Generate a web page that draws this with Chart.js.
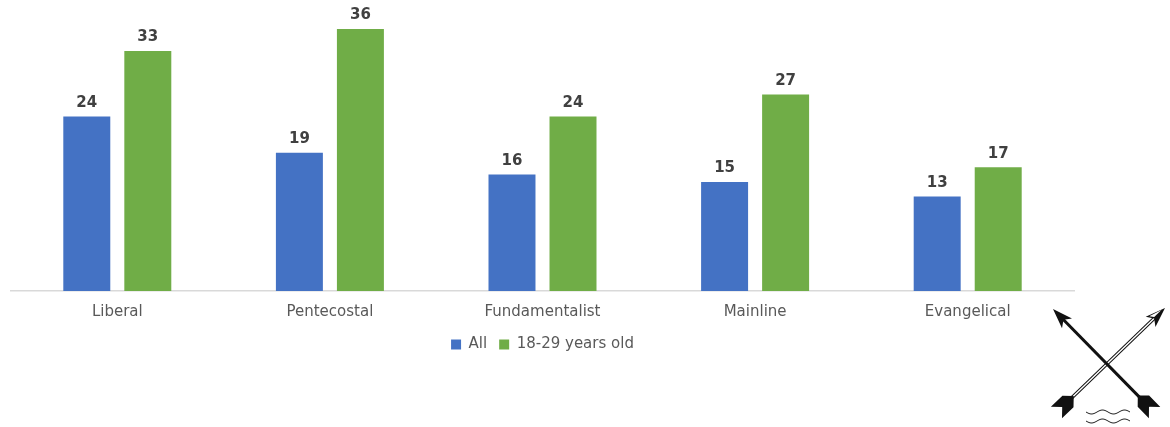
<!DOCTYPE html>
<html>
    <head>
        <title>Groupes religieux</title>
        <meta http-equiv="Content-Type" content="text/html; charset=UTF-8">
        <script src="https://cdn.jsdelivr.net/npm/chart.js"></script>
        <style>
            html, body { margin: 0; padding: 0; background: #fff; }
            #wrap { width: 1170px; height: 427px; position: relative; }
        </style>
    </head>
    <body>
        <div id="wrap">
            <canvas id="graphique"></canvas>
        </div>

        <script>
            const categories = ["Liberal", "Pentecostal", "Fundamentalist", "Mainline", "Evangelical"];
            const valeursTous = [24, 19, 16, 15, 13];
            const valeurs18_29 = [33, 36, 24, 27, 17];

            // valeurs au-dessus des barres
            const etiquettes = {
                id: 'etiquettes',
                afterDatasetsDraw(chart) {
                    const ctx = chart.ctx;
                    ctx.save();
                    ctx.font = 'bold 15px "DejaVu Sans"';
                    ctx.fillStyle = '#404040';
                    ctx.textAlign = 'center';
                    ctx.textBaseline = 'bottom';
                    chart.data.datasets.forEach(function (ds, i) {
                        chart.getDatasetMeta(i).data.forEach(function (bar, j) {
                            ctx.fillText(ds.data[j], bar.x, bar.y - 6);
                        });
                    });
                    ctx.restore();
                }
            };

            // petit logo : deux flèches croisées
            function fleche(ctx, x1, y1, x2, y2, plein) {
                const a = Math.atan2(y2 - y1, x2 - x1);
                ctx.save();
                ctx.translate(x1, y1);
                ctx.rotate(a);
                const L = Math.hypot(x2 - x1, y2 - y1);
                ctx.strokeStyle = '#111';
                ctx.fillStyle = '#111';
                if (plein) {
                    ctx.lineWidth = 3;
                    ctx.beginPath(); ctx.moveTo(10, 0); ctx.lineTo(L - 8, 0); ctx.stroke();
                } else {
                    ctx.lineWidth = 1;
                    ctx.beginPath(); ctx.moveTo(10, -1.2); ctx.lineTo(L - 8, -1.2); ctx.stroke();
                    ctx.beginPath(); ctx.moveTo(10, 1.2); ctx.lineTo(L - 8, 1.2); ctx.stroke();
                }
                // pointe (côté x2)
                ctx.beginPath();
                ctx.moveTo(L, 0);
                ctx.lineTo(L - 20, -7);
                ctx.lineTo(L - 15, 0);
                ctx.lineTo(L - 20, 7);
                ctx.closePath();
                ctx.fill();
                if (!plein) {
                    ctx.fillStyle = '#fff';
                    ctx.beginPath();
                    ctx.moveTo(L - 4, -1);
                    ctx.lineTo(L - 17, -5);
                    ctx.lineTo(L - 14, -1);
                    ctx.closePath();
                    ctx.fill();
                    ctx.fillStyle = '#111';
                }
                // empennage (côté x1)
                ctx.beginPath();
                ctx.moveTo(2, -8); ctx.lineTo(18, -8); ctx.lineTo(26, 0);
                ctx.lineTo(18, 8); ctx.lineTo(2, 8); ctx.lineTo(10, 0);
                ctx.closePath();
                ctx.fill();
                ctx.restore();
            }

            const logo = {
                id: 'logo',
                afterDraw(chart) {
                    const ctx = chart.ctx;
                    fleche(ctx, 1156, 414, 1053, 309, true);
                    fleche(ctx, 1055, 414, 1165, 308, false);
                    ctx.save();
                    ctx.strokeStyle = '#222';
                    ctx.lineWidth = 1;
                    [412, 421].forEach(function (y) {
                        ctx.beginPath();
                        for (let x = 1086; x <= 1130; x++) {
                            const yy = y + 2 * Math.sin((x - 1086) / 22 * 2 * Math.PI);
                            if (x === 1086) ctx.moveTo(x, yy); else ctx.lineTo(x, yy);
                        }
                        ctx.stroke();
                    });
                    ctx.restore();
                }
            };

            const ctx = document.getElementById("graphique").getContext("2d");
            const chart = new Chart(ctx, {
                type: "bar",
                data: {
                    labels: categories,
                    datasets: [
                        {
                            label: "All",
                            data: valeursTous,
                            backgroundColor: "#4472C4",
                            categoryPercentage: 0.574,
                            barPercentage: 0.77
                        },
                        {
                            label: "18-29 years old",
                            data: valeurs18_29,
                            backgroundColor: "#70AD47",
                            categoryPercentage: 0.574,
                            barPercentage: 0.77
                        }
                    ]
                },
                options: {
                    responsive: true,
                    maintainAspectRatio: false,
                    animation: false,
                    layout: { padding: { left: 11, right: 96, top: 0, bottom: 65 } },
                    scales: {
                        x: {
                            grid: { display: false },
                            border: { color: '#d9d9d9', width: 1.5 },
                            ticks: {
                                color: '#595959',
                                font: { family: '"DejaVu Sans"', size: 15 },
                                padding: 4
                            }
                        },
                        y: {
                            display: false,
                            min: 0,
                            max: 40
                        }
                    },
                    plugins: {
                        legend: {
                            position: 'bottom',
                            labels: {
                                boxWidth: 10,
                                boxHeight: 10,
                                color: '#595959',
                                padding: 12,
                                font: { family: '"DejaVu Sans"', size: 15 }
                            }
                        },
                        tooltip: { enabled: false }
                    }
                },
                plugins: [etiquettes, logo]
            });
        </script>
    </body>
</html>
